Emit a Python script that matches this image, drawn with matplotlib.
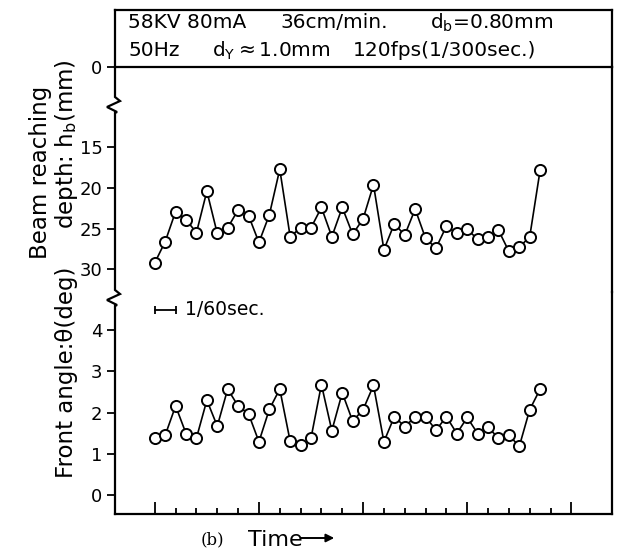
import matplotlib
matplotlib.use("Agg")
import matplotlib.pyplot as plt
from matplotlib.lines import Line2D
from matplotlib.ticker import FixedLocator

# frame index (1/120 s per frame) and measured values
frames = list(range(38))
depth_mm = [29.2, 26.6, 22.9, 23.9, 25.5, 20.4, 25.6, 24.9, 22.7, 23.4,
            26.7, 23.3, 17.7, 26.0, 24.9, 24.9, 22.4, 26.0, 22.4, 25.7,
            23.8, 19.6, 27.6, 24.4, 25.8, 22.6, 26.2, 27.4, 24.7, 25.6,
            25.1, 26.3, 26.0, 25.2, 27.8, 27.3, 26.0, 17.8]
angle_deg = [1.38, 1.45, 2.16, 1.49, 1.38, 2.30, 1.67, 2.57, 2.16, 1.97,
             1.29, 2.08, 2.57, 1.30, 1.20, 1.38, 2.68, 1.56, 2.48, 1.79,
             2.07, 2.66, 1.29, 1.90, 1.66, 1.89, 1.90, 1.57, 1.90, 1.49,
             1.88, 1.49, 1.64, 1.38, 1.45, 1.18, 2.07, 2.57]
depth_ticks = [15, 20, 25, 30]
angle_ticks = [0, 1, 2, 3, 4]
time_major = [0, 10, 20, 30, 40]
time_minor = [t for t in range(2, 40, 2) if t % 10]
scale_bar = [0, 2]  # 1/60 s = 2 frames

W, H = 620, 552
BOX_L, BOX_R, BOX_T, BOX_B = 115, 612, 10, 514
HDR_Y, BRK1, BRK2 = 67, 97, 290


def box(y0, y1):
    return [BOX_L / W, 1 - y1 / H, (BOX_R - BOX_L) / W, (y1 - y0) / H]


def fpt(x, y):
    return x / W, 1 - y / H


LW = 1.6
fig = plt.figure(figsize=(W / 100, H / 100), dpi=100)
ax_hdr = fig.add_axes(box(BOX_T, HDR_Y))
ax_top = fig.add_axes(box(HDR_Y, BRK2 + 2))
ax_bot = fig.add_axes(box(BRK2 + 2, BOX_B))

xlim = (-3.82, 43.9)
for ax in (ax_hdr, ax_top, ax_bot):
    ax.set_xlim(*xlim)
    ax.spines["left"].set_visible(False)
    for s in ax.spines.values():
        s.set_linewidth(LW)
    ax.tick_params(axis="y", direction="out", length=6, width=1.3,
                   labelsize=13, pad=3)
    ax.patch.set_visible(False)

ax_hdr.set_ylim(0, 1)
ax_hdr.set_yticks([0])
ax_hdr.set_yticklabels(["0"])
ax_hdr.set_xticks([])

ax_top.spines["top"].set_visible(False)
ax_top.spines["bottom"].set_visible(False)
ax_top.set_xticks([])
ax_top.set_ylim(32.8, 5.12)
ax_top.set_yticks(depth_ticks)

ax_bot.spines["top"].set_visible(False)
ax_bot.set_ylim(-0.466, 4.93)
ax_bot.set_yticks(angle_ticks)
ax_bot.xaxis.set_major_locator(FixedLocator(time_major))
ax_bot.xaxis.set_minor_locator(FixedLocator(time_minor))
ax_bot.tick_params(axis="x", which="major", direction="in", length=9,
                   width=1.3, labelbottom=False)
ax_bot.tick_params(axis="x", which="minor", direction="in", length=4,
                   width=1.3)

mk = dict(marker="o", ms=8, mfc="white", mec="black", mew=1.4,
          color="black", lw=1.2)
ax_top.plot(frames, depth_mm, **mk)
ax_bot.plot(frames, angle_deg, **mk)

# 1/60 sec scale bar
ax_bot.plot(scale_bar, [4.5, 4.5], color="black", lw=1.3, marker="|",
            ms=6, mew=1.3)
ax_bot.text(scale_bar[1] + 0.9, 4.5, "1/60sec.", fontsize=13.5,
            va="center", ha="left")

# left spine with break marks
pts = [(BOX_L, BOX_T)]
for yb in (BRK1, BRK2):
    pts += [(BOX_L, yb), (BOX_L + 5, yb + 4), (BOX_L - 8, yb + 10),
            (BOX_L + 2, yb + 15), (BOX_L, yb + 16)]
pts.append((BOX_L, BOX_B))
fx = [fpt(x, y)[0] for x, y in pts]
fy = [fpt(x, y)[1] for x, y in pts]
fig.add_artist(Line2D(fx, fy, color="black", lw=LW,
                      transform=fig.transFigure, solid_joinstyle="miter"))

# header text
hdr = [(128, 23, "58KV 80mA"), (280, 23, "36cm/min."),
       (430, 23, r"d$_\mathrm{b}$=0.80mm"),
       (128, 51, "50Hz"), (212, 51, r"d$_\mathrm{Y}$$\approx$1.0mm"),
       (353, 51, "120fps(1/300sec.)")]
for x, y, s in hdr:
    fig.text(*fpt(x, y), s, fontsize=14.5, ha="left", va="center")

# axis labels
fig.text(*fpt(41, 172), "Beam reaching", rotation=90, fontsize=16.5,
         ha="center", va="center")
fig.text(*fpt(66, 144), r"depth: h$_\mathrm{b}$(mm)", rotation=90,
         fontsize=16.5, ha="center", va="center")
fig.text(*fpt(66, 372), "Front angle:θ(deg)", rotation=90, fontsize=16.5,
         ha="center", va="center")

fig.text(*fpt(212, 540), "(b)", fontsize=12, family="DejaVu Serif",
         ha="center", va="center")
fig.text(*fpt(248, 540), "Time", fontsize=16, ha="left", va="center")
fig.add_artist(plt.Annotation("", xy=fpt(337, 538), xytext=fpt(298, 538),
                              xycoords="figure fraction",
                              arrowprops=dict(arrowstyle="-|>", lw=1.4,
                                              color="black",
                                              mutation_scale=12)))

fig.savefig("out.png", dpi=100)
